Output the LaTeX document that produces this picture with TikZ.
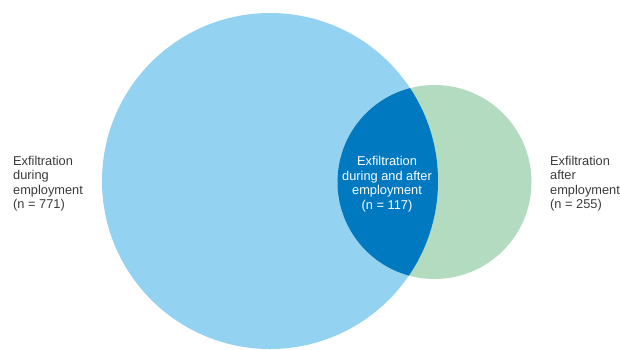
\documentclass[tikz,border=0pt]{standalone}
\usepackage{fontspec}
\setmainfont{Liberation Sans}
\definecolor{lightblue}{HTML}{94D2F2}
\definecolor{lightgreen}{HTML}{B2DBBF}
\definecolor{darkblue}{HTML}{0079C1}
\definecolor{txtgray}{HTML}{3A3A3A}
\begin{document}
\begin{tikzpicture}[x=1pt,y=-1pt,
  lbl/.style={font=\fontsize{12.8}{14.5}\selectfont, text=txtgray, inner sep=0pt},
  inlbl/.style={font=\fontsize{12.8}{14.5}\selectfont, text=white, inner sep=0pt, align=center}]
\useasboundingbox (0,0) rectangle (620,349);
\fill[lightblue] (270,181) circle[radius=168];
\fill[lightgreen] (434.5,182) circle[radius=97];
\begin{scope}
\clip (434.5,182) circle[radius=97];
\fill[darkblue] (270,181) circle[radius=168];
\end{scope}
\node[lbl, align=left, anchor=west] (during) at (13,183.5) {Exfiltration\\during\\employment\\(n = 771)};
\node[inlbl] (both) at (387,184) {Exfiltration\\during and after\\employment\\(n = 117)};
\node[lbl, align=left, anchor=west] (after) at (550,183.5) {Exfiltration\\after\\employment\\(n = 255)};
\end{tikzpicture}
\end{document}
